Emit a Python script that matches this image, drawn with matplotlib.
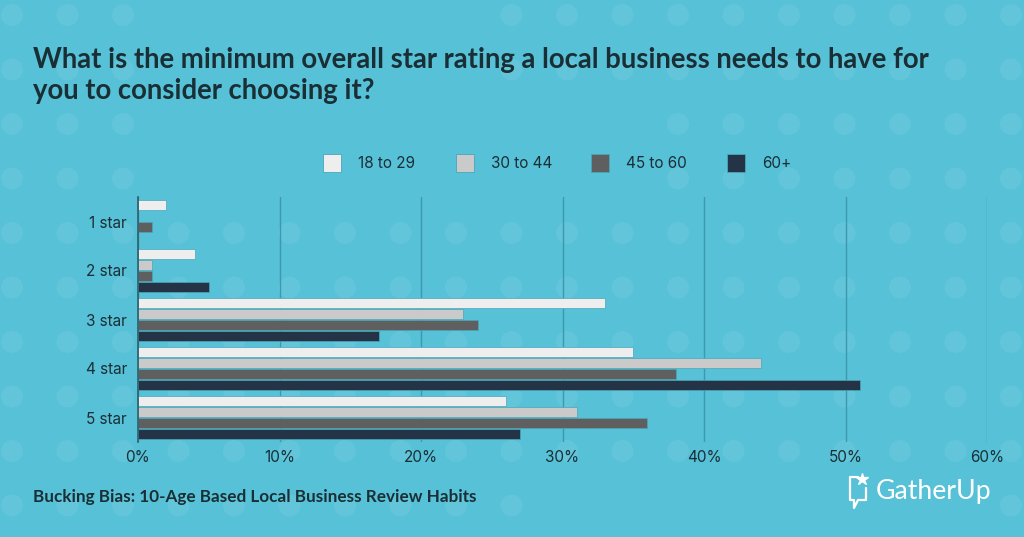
import numpy as np
import matplotlib.pyplot as plt
from matplotlib.patches import Circle, Rectangle

# data (percent of respondents)
categories = ['1 star', '2 star', '3 star', '4 star', '5 star']
groups = ['18 to 29', '30 to 44', '45 to 60', '60+']
age_18_29 = [2, 4, 33, 35, 26]
age_30_44 = [0, 1, 23, 44, 31]
age_45_60 = [1, 1, 24, 38, 36]
age_60_plus = [0, 5, 17, 51, 27]
x_ticks = [0, 10, 20, 30, 40, 50, 60]

series = [age_18_29, age_30_44, age_45_60, age_60_plus]
colors = ['#eeeeee', '#cacaca', '#5f5f5f', '#243446']

bg = '#57c1d7'
dark = '#1a2f35'

fig = plt.figure(figsize=(10.24, 5.37), dpi=100)
fig.patch.set_facecolor(bg)

# background layer in pixel coords: polka dots, titles, legend, logo
bgax = fig.add_axes([0, 0, 1, 1])
bgax.set_xlim(0, 1024)
bgax.set_ylim(537, 0)
bgax.axis('off')
bgax.set_zorder(0)

for cx in np.arange(12, 1030, 55.5):
    for cy in np.arange(15, 545, 54.5):
        # leave the title block and lower right free of dots
        if 150 < cx < 500 and cy < 200:
            continue
        if 500 < cx < 650 and 100 < cy < 200:
            continue
        if 540 < cx < 990 and cy > 460:
            continue
        bgax.add_patch(Circle((cx, cy), 11, facecolor='white', alpha=0.07, lw=0))

title_lines = ['What is the minimum overall star rating a local business needs to have for',
               'you to consider choosing it?']
for k, line in enumerate(title_lines):
    bgax.text(33, 68 + 31 * k, line, fontsize=19.8, fontweight='bold', family='Lato',
              color=dark, va='baseline')

# legend drawn by hand
leg_x = [323, 456, 591, 727]
for lx, lab, col in zip(leg_x, groups, colors):
    bgax.add_patch(Rectangle((lx, 154), 18, 18, facecolor=col, edgecolor='#4aa6b9', lw=0.6))
    bgax.text(lx + 35, 163.5, lab, fontsize=11, family='Inter', color=dark, va='center')

bgax.text(33, 497, 'Bucking Bias: 10-Age Based Local Business Review Habits', fontsize=12.3,
          fontweight='bold', family='Lato', color=dark, va='center')

# GatherUp logo (simplified)
bgax.plot([858, 850, 850, 854, 854, 858, 866, 866], [477, 477, 500, 500, 508, 500, 500, 488],
          color='white', lw=1.6, solid_joinstyle='round', solid_capstyle='round')
bgax.plot([862], [479], marker='*', color='white', markersize=9)
bgax.text(876, 492, 'GatherUp', fontsize=19.2, family='Lato', color='white', va='center')

# main chart
ax = fig.add_axes([138 / 1024, 1 - 442 / 537, 849 / 1024, 245 / 537])
ax.set_zorder(1)
ax.patch.set_alpha(0)

y = np.arange(len(categories))
h = 0.225
for i, (vals, col, lab) in enumerate(zip(series, colors, groups)):
    ax.barh(y + (i - 1.5) * h, vals, height=h * 0.96, color=col, label=lab,
            edgecolor='#4aa6b9', linewidth=0.5, zorder=3)

ax.set_xlim(0, 60)
ax.set_ylim(4.5, -0.5)
ax.set_xticks(x_ticks)
ax.set_xticklabels([f'{t}%' for t in x_ticks])
ax.set_yticks(y)
ax.set_yticklabels(categories)
ax.tick_params(length=0, labelsize=11, labelcolor=dark)
for lab in ax.get_xticklabels() + ax.get_yticklabels():
    lab.set_family('Inter')
ax.tick_params(axis='y', pad=8)
ax.tick_params(axis='x', pad=6)
ax.grid(axis='x', color='#3d9aae', lw=1, zorder=1)
for s in ['top', 'right', 'bottom']:
    ax.spines[s].set_visible(False)
ax.spines['left'].set_color('#2f5f6c')
ax.spines['left'].set_linewidth(1.2)
ax.spines['left'].set_zorder(4)

fig.savefig('out.png', dpi=100, facecolor=bg)
